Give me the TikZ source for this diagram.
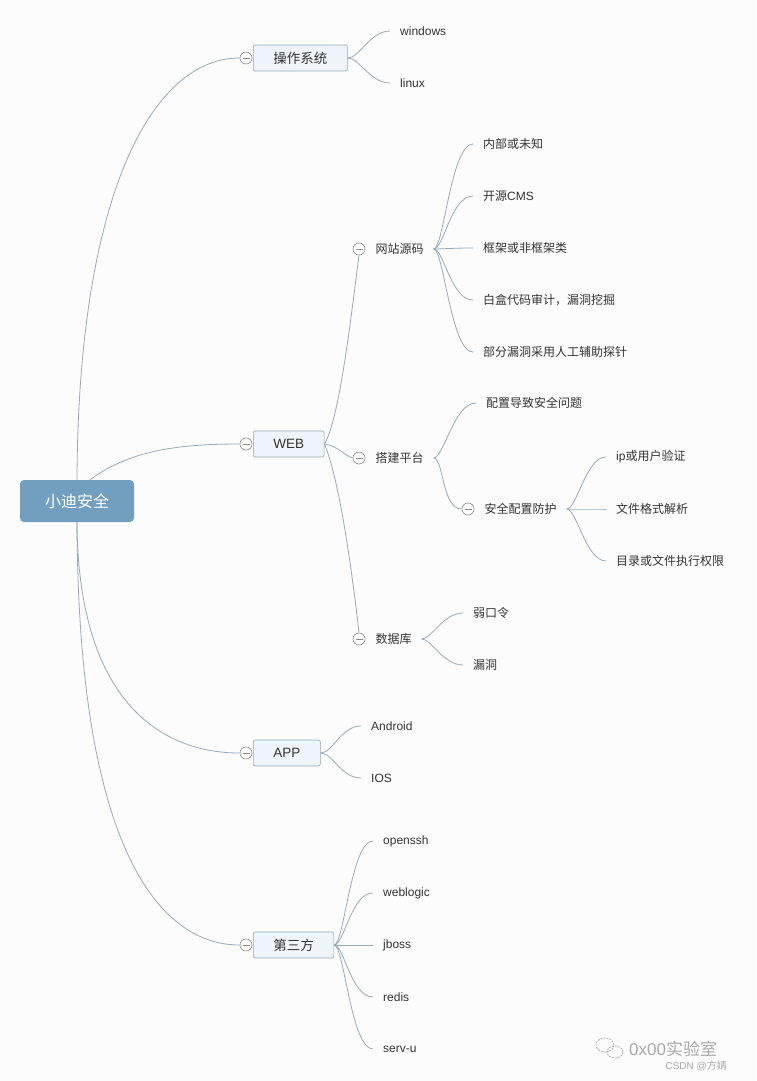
\documentclass[tikz,border=0pt]{standalone}
\usepackage{fontspec}
\setmainfont{Liberation Sans}
\newfontfamily\cjk{Noto Sans CJK SC}
\definecolor{linkc}{HTML}{93ABBE}
\definecolor{boxb}{HTML}{8FA8BC}
\definecolor{boxf}{HTML}{EEF4F9}
\definecolor{rootf}{HTML}{729FBF}
\definecolor{txt}{HTML}{333333}
\definecolor{foldc}{HTML}{8A8A8A}
\definecolor{wm}{HTML}{A8A8A8}
\begin{document}
\begin{tikzpicture}[x=1pt,y=-1pt,
  lnk/.style={draw=linkc, line width=0.8pt},
  rootbox/.style={fill=rootf, rounded corners=4pt, minimum width=114pt, minimum height=42pt, inner sep=0pt, text=white, font=\cjk\fontsize{16}{18}\selectfont},
  topic/.style={draw=boxb, fill=boxf, rounded corners=2pt, line width=0.6pt, inner xsep=20pt, inner ysep=0pt, minimum height=26pt, anchor=west, text=txt, font=\fontsize{13.5}{16}\selectfont},
  leaf/.style={anchor=west, inner xsep=10pt, inner ysep=2pt, text=txt, font=\fontsize{12}{14}\selectfont},
  sublabel/.style={anchor=west, inner xsep=10pt, inner ysep=2pt, text=txt, font=\cjk\fontsize{12}{14}\selectfont},
  fold/.style={circle, draw=foldc, fill=white, minimum size=12pt, inner sep=0pt, line width=0.6pt,
    path picture={\draw[foldc, line width=0.6pt] ([xshift=2.5pt]path picture bounding box.west) -- ([xshift=-2.5pt]path picture bounding box.east);}},
  wmtext/.style={text=wm, inner sep=0pt}
]
\useasboundingbox[fill=white!98!gray] (0,0) rectangle (756,1081);

% root
\node[rootbox] (root) at (77,501) {小迪安全};

% level 1
\node[fold] (f1) at (246,58) {};
\node[topic, font=\cjk\fontsize{13.5}{16}\selectfont] (os) at (253,58) {操作系统};
\node[fold] (f2) at (246,444) {};
\node[topic] (web) at (253,444) {WEB};
\node[fold] (f3) at (246,753) {};
\node[topic] (app) at (253,753) {APP};
\node[fold] (f4) at (246,945) {};
\node[topic, font=\cjk\fontsize{13.5}{16}\selectfont] (third) at (253,945) {第三方};

% root connectors
\draw[lnk] (root.north) .. controls (78,200) and (150,58) .. (f1.west);
\draw[lnk] ([xshift=13pt]root.north) .. controls (130,450) and (180,444) .. (f2.west);
\draw[lnk] (root.south) .. controls (78,700) and (160,753) .. (f3.west);
\draw[lnk] (root.south) .. controls (78,850) and (160,945) .. (f4.west);

% OS leaves
\node[leaf] (win) at (390,31) {windows};
\node[leaf] (lin) at (390,83) {linux};
\foreach \t in {win,lin}
  \draw[lnk] (os.east) .. controls +(12,0) and +(-20,0) .. (\t.west);

% WEB subs
\node[fold] (s1) at (359,249) {};
\node[sublabel] (src) at (s1.east) {网站源码};
\node[fold] (s2) at (359,458) {};
\node[sublabel] (plat) at (s2.east) {搭建平台};
\node[fold] (s3) at (359,639) {};
\node[sublabel] (db) at (s3.east) {数据库};

\draw[lnk] (web.east) .. controls (340,420) and (353,300) .. (s1.south);
\draw[lnk] (web.east) .. controls (338,446) and (345,456) .. (s2.west);
\draw[lnk] (web.east) .. controls (340,480) and (353,580) .. (s3.north);

% source leaves
\node[leaf, font=\cjk\fontsize{12}{14}\selectfont] (a1) at (473,144) {内部或未知};
\node[leaf] (a2) at (473,196) {{\cjk 开源}CMS};
\node[leaf, font=\cjk\fontsize{12}{14}\selectfont] (a3) at (473,248) {框架或非框架类};
\node[leaf, font=\cjk\fontsize{12}{14}\selectfont] (a4) at (473,300) {白盒代码审计，漏洞挖掘};
\node[leaf, font=\cjk\fontsize{12}{14}\selectfont] (a5) at (473,352) {部分漏洞采用人工辅助探针};
\foreach \t in {a1,a2,a3,a4,a5}
  \draw[lnk] (src.east) .. controls +(10,0) and +(-22,0) .. (\t.west);

% platform
\node[leaf, font=\cjk\fontsize{12}{14}\selectfont] (b1) at (476,403) {配置导致安全问题};
\node[fold] (s4) at (468,509) {};
\node[sublabel] (prot) at (s4.east) {安全配置防护};
\draw[lnk] (plat.east) .. controls +(10,0) and +(-22,0) .. (b1.west);
\draw[lnk] (plat.east) .. controls +(10,0) and +(-20,0) .. (s4.west);

\node[leaf] (c1) at (606,457) {ip{\cjk 或用户验证}};
\node[leaf, font=\cjk\fontsize{12}{14}\selectfont] (c2) at (606,509) {文件格式解析};
\node[leaf, font=\cjk\fontsize{12}{14}\selectfont] (c3) at (606,561) {目录或文件执行权限};
\foreach \t in {c1,c2,c3}
  \draw[lnk] (prot.east) .. controls +(10,0) and +(-20,0) .. (\t.west);

% database
\node[leaf, font=\cjk\fontsize{12}{14}\selectfont] (d1) at (463,613) {弱口令};
\node[leaf, font=\cjk\fontsize{12}{14}\selectfont] (d2) at (463,665) {漏洞};
\foreach \t in {d1,d2}
  \draw[lnk] (db.east) .. controls +(10,0) and +(-20,0) .. (\t.west);

% APP
\node[leaf] (e1) at (361,726) {Android};
\node[leaf] (e2) at (361,778) {IOS};
\foreach \t in {e1,e2}
  \draw[lnk] (app.east) .. controls +(12,0) and +(-20,0) .. (\t.west);

% third party
\node[leaf] (g1) at (373,841) {openssh};
\node[leaf] (g2) at (373,893) {weblogic};
\node[leaf] (g3) at (373,945) {jboss};
\node[leaf] (g4) at (373,997) {redis};
\node[leaf] (g5) at (373,1049) {serv-u};
\foreach \t in {g1,g2,g3,g4,g5}
  \draw[lnk] (third.east) .. controls +(10,0) and +(-22,0) .. (\t.west);

% watermark
\draw[wm, line width=0.7pt, dash pattern=on 2pt off 1pt] (605,1045) ellipse [x radius=9, y radius=7];
\draw[wm, line width=0.7pt, dash pattern=on 2pt off 1pt] (615,1052) ellipse [x radius=8, y radius=6];
\node[wmtext, anchor=west, font=\fontsize{17}{19}\selectfont] (wm1) at (629,1049) {0x00{\cjk 实验室}};
\node[wmtext, anchor=east, font=\fontsize{10}{12}\selectfont] (wm2) at (727,1066) {CSDN @{\cjk 方婧}};
\end{tikzpicture}
\end{document}
